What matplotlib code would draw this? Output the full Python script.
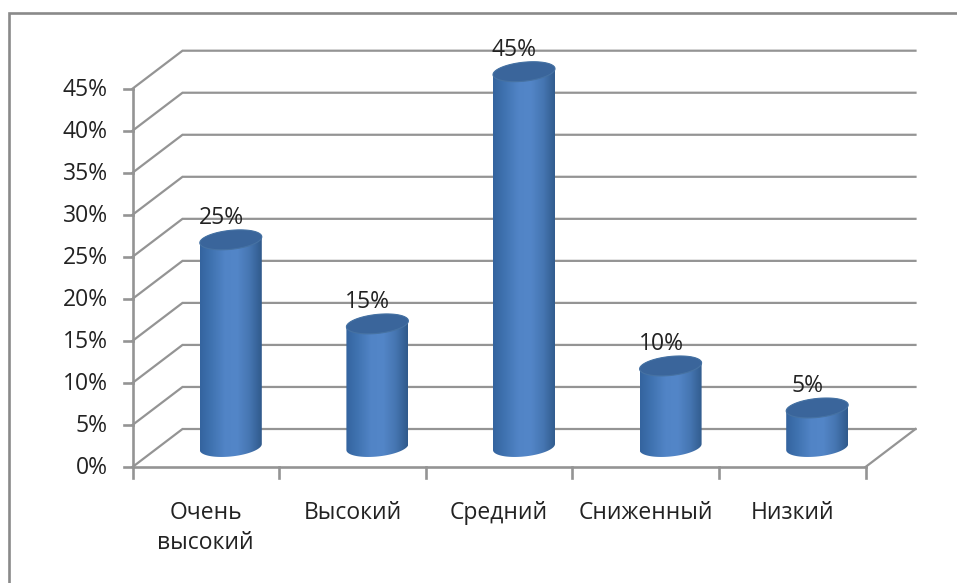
import numpy as np
import matplotlib
matplotlib.use("Agg")
import matplotlib.pyplot as plt
from matplotlib.lines import Line2D
from matplotlib.patches import Polygon
from matplotlib.colors import LinearSegmentedColormap

categories = ["Очень\nвысокий", "Высокий", "Средний", "Сниженный", "Низкий"]
values = [25, 15, 45, 10, 5]
ticks = [0, 5, 10, 15, 20, 25, 30, 35, 40, 45]

W, H = 957, 583
plt.rcParams["font.family"] = ["Open Sans", "DejaVu Sans"]
GRID = "#949494"
TEXT = "#222222"
FS = 16.5

fig = plt.figure(figsize=(W / 100, H / 100), dpi=100)
ax = fig.add_axes([132.5 / W, 1 - 467 / H, (865.5 - 132.5) / W, (467 - 88.7) / H])
ax.set_xlim(0, 5)
ax.set_ylim(0, 45)
ax.axis("off")

# pixels per data unit, used for the fake 3d depth
px_x = 733 / 5
px_y = 378.3 / 45
dx = 50 / px_x
dy = 38 / px_y

for t in ticks:
    ax.plot([0, dx, 5 + dx], [t, t + dy, t + dy], color=GRID, lw=1.6, clip_on=False, solid_joinstyle="miter")
ax.plot([0, 5], [0, 0], color=GRID, lw=1.9, clip_on=False)
ax.plot([5, 5 + dx], [0, dy], color=GRID, lw=1.6, clip_on=False)
ax.plot([0, 0], [0, 45], color=GRID, lw=1.9, clip_on=False)
for t in ticks:
    ax.plot([-0.06, 0], [t, t], color=GRID, lw=1.9, clip_on=False)
    ax.text(-0.17, t - 0.1, f"{t}%", ha="right", va="center", fontsize=FS, color=TEXT, clip_on=False)
for i in range(6):
    ax.plot([i, i], [0, -1.3], color=GRID, lw=1.9, clip_on=False)

# cylinders, slightly tilted ellipses top and bottom
cmap = LinearSegmentedColormap.from_list("cyl", ["#34649f", "#4174b2", "#5184c6", "#5386c8", "#4676b2", "#305a8c"])
grad = np.linspace(0, 1, 128).reshape(1, -1)
half_w = 31 / px_x
ell_h = 9.5 / px_y
tilt = 3 / px_y
th = np.linspace(0, 2 * np.pi, 100)
for i, v in enumerate(values):
    cx = i + 0.5 + dx / 2
    base = dy / 2 + 1 / px_y
    top = base + v - 3 / px_y
    low = np.linspace(np.pi, 2 * np.pi, 50)
    up = np.linspace(0, np.pi, 50)
    body = np.vstack([
        np.column_stack([cx + half_w * np.cos(low), base + ell_h * np.sin(low) + tilt * np.cos(low)]),
        np.column_stack([cx + half_w * np.cos(up), top + ell_h * np.sin(up) + tilt * np.cos(up)]),
    ])
    patch = Polygon(body, closed=True, facecolor="none", edgecolor="none", zorder=3, clip_on=False)
    ax.add_patch(patch)
    im = ax.imshow(grad, extent=[cx - half_w, cx + half_w, base - 2 * ell_h, top + 2 * ell_h], cmap=cmap,
                   aspect="auto", zorder=3, interpolation="bilinear")
    im.set_clip_box(fig.bbox)
    im.set_clip_path(patch)
    cap = np.column_stack([cx + half_w * np.cos(th), top + ell_h * np.sin(th) + tilt * np.cos(th)])
    ax.add_patch(Polygon(cap, closed=True, facecolor="#3a659b", edgecolor="#4672a3", lw=0.8, zorder=4, clip_on=False))
    ax.text(cx - 9.5 / px_x, top + 22 / px_y, f"{v}%", ha="center", va="center", fontsize=FS, color=TEXT,
            zorder=5, clip_on=False)

ax.set_xlim(0, 5)
ax.set_ylim(0, 45)

for i, c in enumerate(categories):
    ax.text(i + 0.5, -4.0, c, ha="center", va="top", fontsize=FS, color=TEXT, linespacing=1.34, clip_on=False)

# chart frame, only top and left edges are inside the picture
fig.add_artist(Line2D([9.3 / W, 9.3 / W, 1], [1 - 582.7 / H, 1 - 13.3 / H, 1 - 13.3 / H], color="#8a8a8a", lw=1.9,
                      solid_joinstyle="miter"))

fig.savefig("out.png", dpi=100)
